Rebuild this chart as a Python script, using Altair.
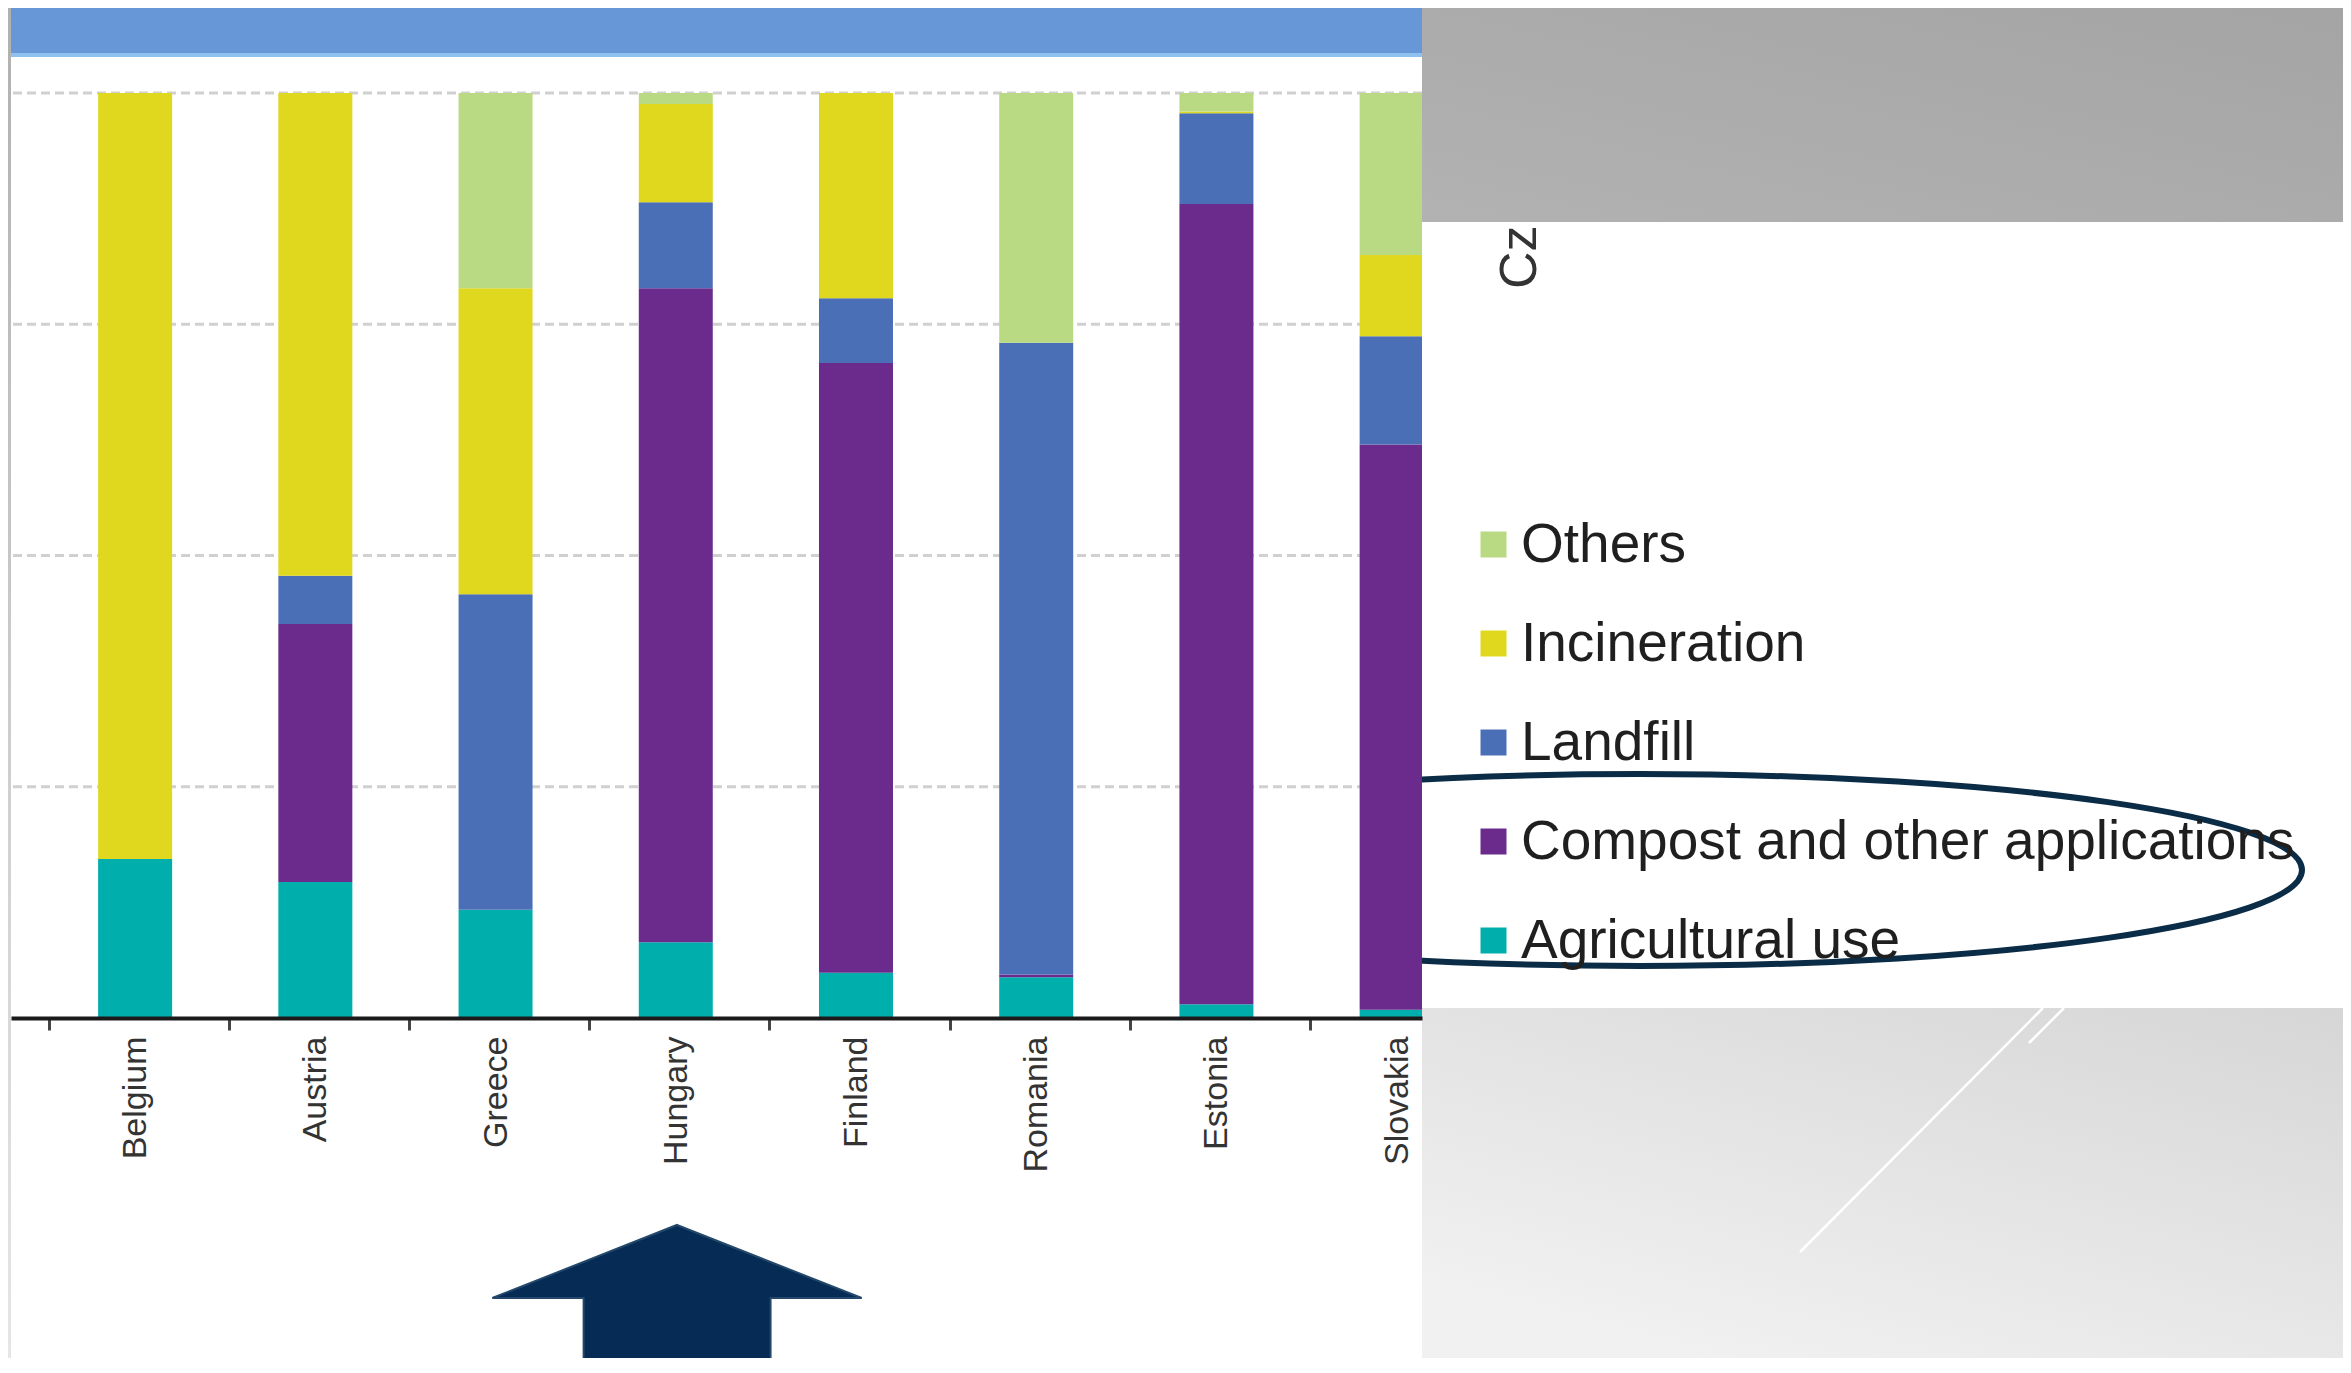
import altair as alt
import pandas as pd

# ---------------- data (percent of sewage sludge by route) ----------------
countries = ["Belgium", "Austria", "Greece", "Hungary", "Finland", "Romania", "Estonia", "Slovakia"]
agricultural = [17.2, 14.7, 11.7, 8.2, 4.9, 4.4, 1.5, 0.9]
compost = [0.0, 27.9, 0.0, 70.7, 65.9, 0.3, 86.5, 61.1]
landfill = [0.0, 5.2, 34.1, 9.3, 7.0, 68.3, 9.8, 11.7]
incineration = [82.8, 52.2, 33.1, 10.6, 22.2, 0.0, 0.2, 8.8]
others = [0.0, 0.0, 21.1, 1.2, 0.0, 27.0, 2.0, 17.5]

series = ["Agricultural use", "Compost and other applications", "Landfill", "Incineration", "Others"]
series_values = [agricultural, compost, landfill, incineration, others]
colors = ["#00aeab", "#6a2b8d", "#4b6fb7", "#e0d81f", "#b9da83"]
legend_order = ["Others", "Incineration", "Landfill", "Compost and other applications", "Agricultural use"]
grid_levels = [25, 50, 75, 100]
visible_label = "Cz"

rows = []
for s_i, (name, vals) in enumerate(zip(series, series_values)):
    for c_i, (country, v) in enumerate(zip(countries, vals)):
        rows.append({"country": country, "idx": c_i, "series": name, "ord": s_i, "value": v})
df = pd.DataFrame(rows)
grid_df = pd.DataFrame({"g": grid_levels})
tick_df = [i - 0.48 for i in range(len(countries))]

# ---------------- layout ----------------
W, H = 1411, 925
FONT = "Liberation Sans, Arial, sans-serif"
x_scale = alt.Scale(domain=[-0.661, 7.113], nice=False, zero=False)
y_scale = alt.Scale(domain=[0, 100], nice=False, zero=True)
one = alt.Data(values=[{"k": 1}])

label_expr = "[" + ",".join("'%s'" % c for c in countries) + "][round(datum.value + 0.48)]"


def rect(x, x2, y, y2, fill):
    return alt.Chart(one).mark_rect(fill=fill, strokeWidth=0).encode(
        x=alt.value(x), x2=alt.value(x2), y=alt.value(y), y2=alt.value(y2))


def grad(c1, c2, x1, y1, x2, y2):
    return alt.LinearGradient(gradient="linear",
                              stops=[alt.GradientStop(color=c1, offset=0),
                                     alt.GradientStop(color=c2, offset=1)],
                              x1=x1, y1=y1, x2=x2, y2=y2)


panel_white = rect(W, W + 925, 129, 915, "#ffffff")
cz_text = alt.Chart(one).mark_text(text=visible_label, angle=270, align="left", baseline="middle",
                                   font=FONT, fontSize=52, color="#333333").encode(
    x=alt.value(1509), y=alt.value(196))
panel_gray = rect(W, W + 925, -90, 129, grad("#a4a4a4", "#b2b2b2", 1, 0, 0, 1))
panel_bottom = rect(W, W + 925, 915, 1270, grad("#d6d6d6", "#f1f1f1", 1, 0, 0.3, 1))
diag1 = alt.Chart(one).mark_rule(color="#ffffff", strokeWidth=2.5).encode(
    x=alt.value(2032), y=alt.value(915), x2=alt.value(1789), y2=alt.value(1159))
diag2 = alt.Chart(one).mark_rule(color="#ffffff", strokeWidth=2.5).encode(
    x=alt.value(2053), y=alt.value(915), x2=alt.value(2018), y2=alt.value(950))

ellipse_path = ("M -1 0 C -1 -0.0801 -0.5523 -0.145 0 -0.145 C 0.5523 -0.145 1 -0.0801 1 0 "
                "C 1 0.0801 0.5523 0.145 0 0.145 C -0.5523 0.145 -1 0.0801 -1 0 Z")
ellipse = alt.Chart(one).mark_point(shape=ellipse_path, size=1324 ** 2, filled=False,
                                    stroke="#0b2c47", strokeWidth=6, opacity=1).encode(
    x=alt.value(1629), y=alt.value(777))

chart_white = rect(0, W, -90, 1270, "#ffffff")
left_strip = rect(-5, 0, -90, 1270, grad("#b0b0b0", "#e6e6e6", 0, 0, 0, 1))

grid = alt.Chart(grid_df).mark_rule(color="#d0d0d0", strokeWidth=3, strokeDash=[9, 5]).encode(
    y=alt.Y("g:Q", scale=y_scale, axis=None))

bars = alt.Chart(df).mark_bar(size=74, clip=True, orient="vertical").encode(
    x=alt.X("idx:Q", scale=x_scale,
            axis=alt.Axis(values=tick_df, labelExpr=label_expr, labelAngle=-90, labelOffset=87,
                          labelFont=FONT, labelFontSize=34, labelColor="#333333", labelPadding=6,
                          tickSize=12, tickWidth=3, tickColor="#454545",
                          domainColor="#1a1a1a", domainWidth=4, grid=False, title=None,
                          labelOverlap=False, labelFlush=False, labelBound=False, zindex=1)),
    y=alt.Y("value:Q", stack="zero", scale=y_scale, axis=None),
    color=alt.Color("series:N", scale=alt.Scale(domain=series, range=colors),
                    legend=alt.Legend(orient="none", legendX=1455, legendY=424, offset=0, title=None,
                                      values=legend_order, symbolType="square", symbolSize=676,
                                      symbolStrokeWidth=0, labelFont=FONT, labelFontSize=55,
                                      labelColor="#1f1f1f", labelOffset=0, rowPadding=43,
                                      padding=0, labelLimit=2000)),
    order=alt.Order("ord:Q", sort="ascending"),
)

banner = rect(0, W, -90, -40, "#6897d8")
banner_edge = rect(0, W, -40, -36, "#8fc0ee")

arrow_path = "M 0 -0.382 L 0.993 0.011 L 0.503 0.011 L 0.503 0.382 L -0.502 0.382 L -0.502 0.011 L -0.993 0.011 Z"
arrow = alt.Chart(one).mark_point(shape=arrow_path, size=372 ** 2, filled=True, fill="#062b55",
                                  stroke="#24486b", strokeWidth=2, opacity=1).encode(
    x=alt.value(666), y=alt.value(1203))

chart = alt.layer(
    panel_white, cz_text, panel_gray, panel_bottom, diag1, diag2, ellipse,
    chart_white, left_strip, grid, bars, banner, banner_edge, arrow,
).properties(
    width=W, height=H,
    autosize=alt.AutoSizeParams(type="none"),
    padding={"left": 3, "top": 85, "right": 921, "bottom": 340},
).configure(background="#ffffff").configure_view(strokeWidth=0)

chart.save("out.html", embed_options={"renderer": "svg", "actions": False})
